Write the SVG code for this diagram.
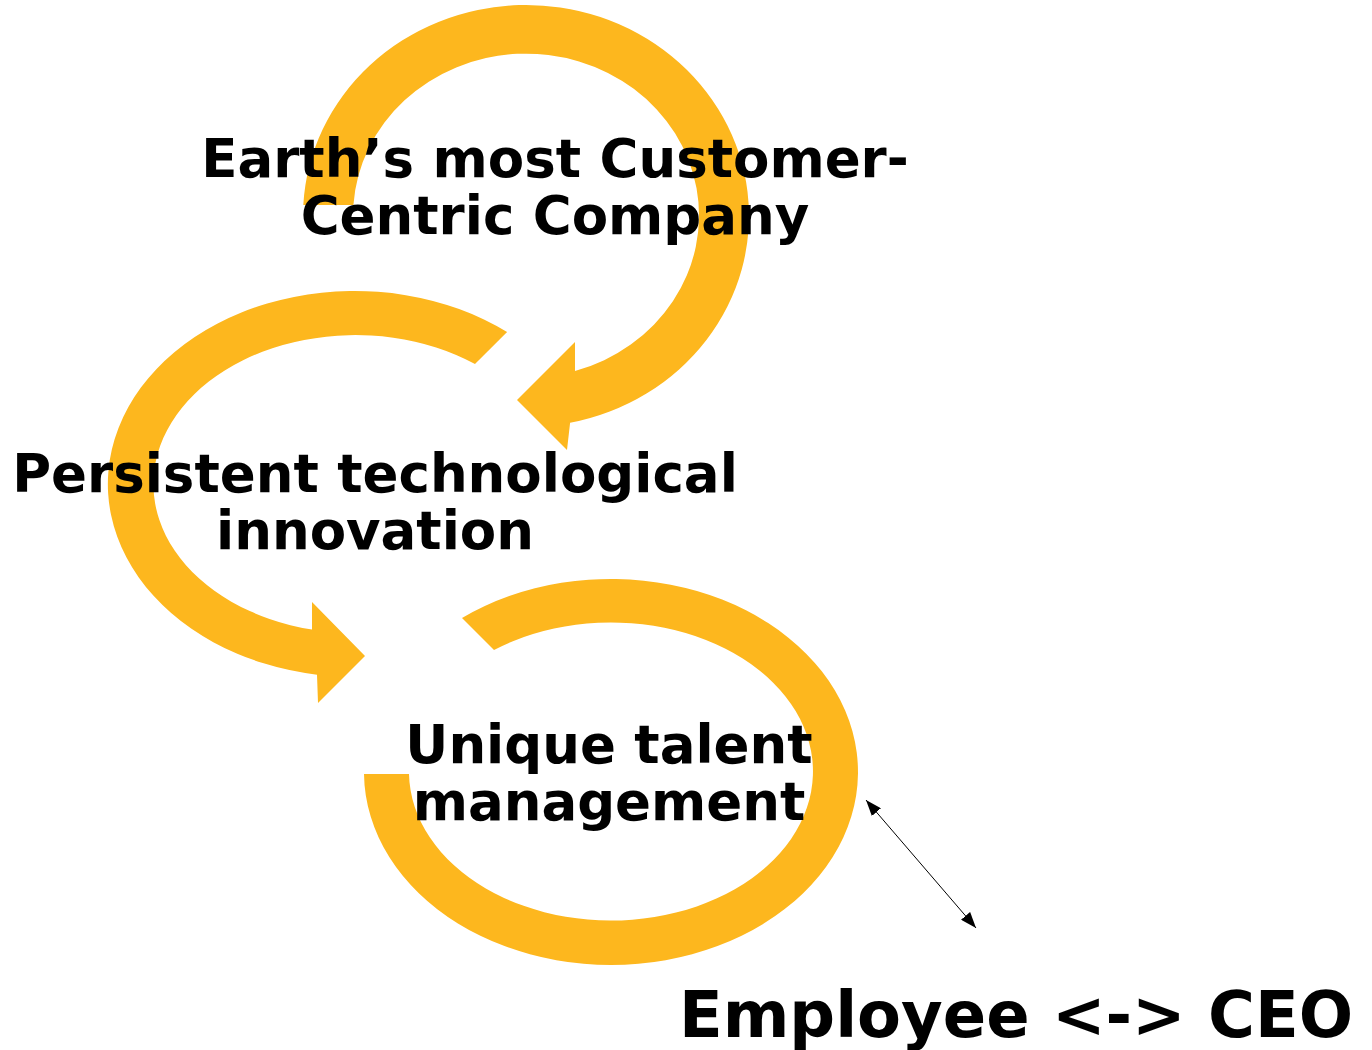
<svg xmlns="http://www.w3.org/2000/svg" width="1372" height="1050" viewBox="0 0 1372 1050">
<style>
.arc{fill:#FDB71E;stroke:none}
.lbl{font-family:"DejaVu Sans","Verdana",sans-serif;font-weight:bold;font-size:53px;fill:#000;text-anchor:middle}
.big{font-size:64px}
.conn{stroke:#000;stroke-width:1;fill:none}
</style>
<defs>
<marker id="ah" viewBox="0 0 16 12" refX="16" refY="6" markerWidth="16" markerHeight="12" markerUnits="userSpaceOnUse" orient="auto-start-reverse">
<path d="M0,0 L16,6 L0,12 Z" fill="#000"/>
</marker>
</defs>
<rect width="1372" height="1050" fill="#fff"/>
<g id="node-customer">
<path class="arc" d="M303.3,205 A223 211 0 1 1 570.1,422.8 L567,450 L517,400 L575,342 L575,371 A173 162 0 1 0 353.4,205 Z"/>
<text class="lbl" x="555" y="177">Earth’s most Customer-</text>
<text class="lbl" x="555" y="234">Centric Company</text>
</g>
<g id="node-innovation">
<path class="arc" d="M507.1,332 A247 193 0 1 0 317,674.7 L318,703 L365,656 L312,602 L312,629.6 A202 149 0 1 1 475,364 Z"/>
<text class="lbl" x="375" y="492">Persistent technological</text>
<text class="lbl" x="375" y="549">innovation</text>
</g>
<g id="node-talent">
<path class="arc" d="M462,618 A247 193 0 1 1 364,774 L409,774 A202 149 0 1 0 494,650 Z"/>
<text class="lbl" x="609" y="763">Unique talent</text>
<text class="lbl" x="609" y="820">management</text>
</g>
<g id="node-employee">
<text class="lbl big" x="1016" y="1037">Employee &lt;-&gt; CEO</text>
</g>
<g id="connectors">
<line class="conn" x1="866" y1="800" x2="976" y2="928" marker-start="url(#ah)" marker-end="url(#ah)"/>
</g>
</svg>
